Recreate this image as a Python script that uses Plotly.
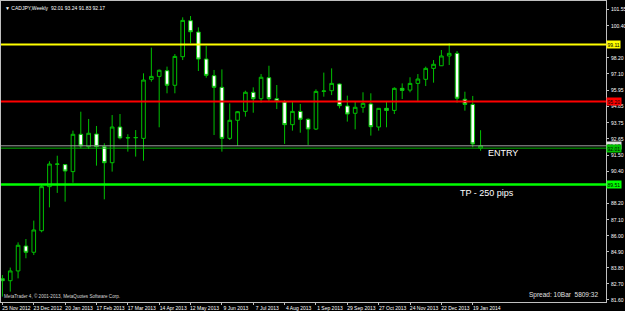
import pandas as pd
import plotly.graph_objects as go

# ---------------- data ----------------
symbol_title = "▼ CADJPY,Weekly  92.01 93.24 91.83 92.17"
start_date = "2012-11-25"
n_bars = 62

opens = [83.06, 82.92, 83.59, 85.30, 84.87, 86.35, 89.37, 90.90, 90.88, 90.40,
         92.96, 92.11, 92.98, 92.11, 91.01, 93.46, 92.71, 92.72, 92.68, 96.73,
         96.93, 97.32, 96.32, 98.28, 100.75, 99.97, 98.12, 96.98, 96.18, 92.68,
         93.92, 94.53, 95.84, 95.40, 96.84, 95.40, 95.17, 93.62, 94.53, 93.99,
         93.32, 95.90, 95.95, 96.41, 94.90, 94.40, 94.81, 95.04, 93.46, 94.74,
         94.60, 96.11, 95.99, 96.45, 96.73, 97.48, 97.66, 98.33, 98.51, 95.36,
         95.01, 92.01]
highs = [83.31, 83.82, 85.55, 85.78, 87.04, 89.48, 91.11, 91.49, 90.92, 93.21,
         94.51, 94.01, 93.53, 92.34, 94.28, 94.35, 92.96, 93.25, 97.14, 98.90,
         97.40, 97.60, 98.46, 100.98, 101.07, 100.29, 99.01, 97.37, 97.41, 95.08,
         94.55, 95.95, 96.18, 97.09, 97.66, 96.34, 95.31, 95.24, 95.04, 94.05,
         96.04, 97.19, 97.48, 96.45, 95.61, 95.20, 95.84, 95.77, 94.76, 95.20,
         96.18, 96.45, 96.87, 97.09, 97.60, 98.05, 98.74, 99.20, 98.67, 95.88,
         95.59, 93.24]
lows = [81.83, 82.17, 83.08, 84.46, 84.68, 86.24, 87.95, 88.94, 88.34, 89.64,
        92.00, 91.95, 90.81, 88.50, 90.40, 92.61, 91.77, 91.43, 91.15, 96.57,
        93.44, 95.77, 95.77, 98.05, 99.20, 97.30, 96.84, 92.91, 91.77, 92.57,
        92.16, 94.17, 94.44, 95.13, 95.24, 94.69, 92.30, 93.21, 93.07, 92.23,
        93.25, 95.54, 95.65, 94.74, 93.83, 93.30, 94.44, 92.87, 93.21, 93.44,
        94.35, 95.38, 95.84, 95.20, 96.27, 96.50, 97.64, 97.71, 95.13, 94.58,
        92.07, 91.83]
closes = [82.92, 83.59, 85.35, 84.87, 86.40, 89.37, 90.92, 90.92, 90.44, 92.96,
          92.16, 93.03, 92.11, 91.01, 93.46, 92.71, 92.73, 92.74, 96.68, 96.93,
          97.35, 96.32, 98.30, 100.77, 99.99, 98.12, 97.00, 96.18, 92.68, 93.92,
          94.51, 95.84, 95.40, 96.87, 95.40, 95.22, 93.62, 94.53, 93.99, 93.32,
          95.90, 95.93, 96.45, 94.92, 94.35, 94.81, 95.08, 93.48, 94.74, 94.60,
          96.11, 95.97, 96.45, 96.75, 97.48, 97.76, 98.33, 98.51, 95.43, 95.01,
          92.30, 92.17]

y_tick_values = [101.55, 100.40, 98.20, 97.10, 95.95, 94.85, 93.75, 92.65,
                 91.50, 90.40, 88.20, 87.10, 86.00, 84.90, 83.80, 82.70, 81.60]

x_tick_labels = ["25 Nov 2012", "23 Dec 2012", "20 Jan 2013", "17 Feb 2013",
                 "17 Mar 2013", "14 Apr 2013", "12 May 2013", "9 Jun 2013",
                 "7 Jul 2013", "4 Aug 2013", "1 Sep 2013", "29 Sep 2013",
                 "27 Oct 2013", "24 Nov 2013", "22 Dec 2013", "19 Jan 2014"]

# horizontal levels: (price, line colour, line width, label background)
level_prices = [99.11, 95.20, 92.17, 92.01, 89.51]
level_colors = ["#ffff00", "#ff0000", "#a0a0a0", "#00b000", "#00ff00"]
level_widths = [2, 2, 1, 1, 2.5]
level_label_bg = ["#ffff00", "#ff0000", "#e0e0e0", "#00c000", "#00ff00"]

entry_text = "ENTRY"
tp_text = "TP - 250 pips"
copyright_text = "MetaTrader 4, © 2001-2013, MetaQuotes Software Corp."
spread_text = "Spread: 10Bar  5809:32"

# ---------------- figure ----------------
dates = pd.date_range(start_date, periods=n_bars, freq="7D")
week = pd.Timedelta(days=7)

FONT = "Liberation Sans"
CANDLE = "#00c000"

fig = go.Figure()
fig.add_trace(go.Candlestick(
    x=dates, open=opens, high=highs, low=lows, close=closes,
    increasing=dict(line=dict(color=CANDLE, width=1), fillcolor="#000000"),
    decreasing=dict(line=dict(color=CANDLE, width=1), fillcolor="#ffffff"),
    whiskerwidth=0, showlegend=False, hoverinfo="skip",
))

shapes = []
annotations = []
for p, c, w, bg in zip(level_prices, level_colors, level_widths, level_label_bg):
    shapes.append(dict(type="line", xref="paper", x0=0, x1=1, yref="y", y0=p, y1=p,
                       line=dict(color=c, width=w), layer="above"))
    annotations.append(dict(xref="paper", x=1, xanchor="left", yref="y", y=p,
                            yanchor="middle", text=f"{p:.2f}", showarrow=False,
                            font=dict(family=FONT, size=5, color="#000000"),
                            bgcolor=bg, borderpad=0.5, xshift=0))

tick_dates = [dates[0] + week * 4 * i for i in range(len(x_tick_labels))]

annotations += [
    dict(xref="paper", yref="paper", x=0.003, y=0.995, xanchor="left", yanchor="top",
         text=symbol_title, showarrow=False,
         font=dict(family=FONT, size=5, color="#ffffff")),
    dict(xref="paper", yref="paper", x=0.002, y=0.0, xanchor="left", yanchor="bottom",
         text=copyright_text, showarrow=False, yshift=1,
         font=dict(family=FONT, size=4.6, color="#d8d8d8")),
    dict(xref="paper", yref="paper", x=0.99, y=0.0, xanchor="right", yanchor="bottom",
         text=spread_text, showarrow=False, yshift=1,
         font=dict(family=FONT, size=6.5, color="#e0e0e0")),
    dict(xref="x", yref="y", x=dates[0] + week * 61.7, y=level_prices[3],
         xanchor="left", yanchor="top", text=entry_text, showarrow=False, yshift=2,
         font=dict(family=FONT, size=9, color="#ffffff")),
    dict(xref="x", yref="y", x=dates[0] + week * 58.1, y=level_prices[4],
         xanchor="left", yanchor="top", text=tp_text, showarrow=False, yshift=-1,
         font=dict(family=FONT, size=9, color="#ffffff")),
]

x_start = dates[0] - week * 0.18
x_end = dates[0] + week * 77.0

fig.update_layout(
    width=625, height=311,
    margin=dict(l=1, r=19, t=1, b=9, autoexpand=False),
    paper_bgcolor="#000000", plot_bgcolor="#000000",
    shapes=shapes, annotations=annotations,
    boxgap=0.34,
    xaxis=dict(type="date", range=[x_start, x_end], rangeslider=dict(visible=False),
               showgrid=False, zeroline=False, showline=True, mirror=True,
               linecolor="#c0c0c0", linewidth=1,
               tickvals=tick_dates, ticktext=x_tick_labels,
               ticks="outside", ticklen=2, tickcolor="#c0c0c0", tickwidth=1,
               ticklabelshift=14, ticklabelstandoff=-1,
               tickfont=dict(family=FONT, size=5, color="#ffffff")),
    yaxis=dict(side="right", range=[81.46, 102.10], showgrid=False, zeroline=False,
               showline=True, mirror=True, linecolor="#c0c0c0", linewidth=1,
               tickvals=y_tick_values, ticktext=[f"{v:.2f}" for v in y_tick_values],
               ticks="outside", ticklen=2, tickcolor="#c0c0c0", tickwidth=1,
               ticklabelstandoff=1,
               tickfont=dict(family=FONT, size=5, color="#ffffff")),
)

fig.write_html("out.html")
